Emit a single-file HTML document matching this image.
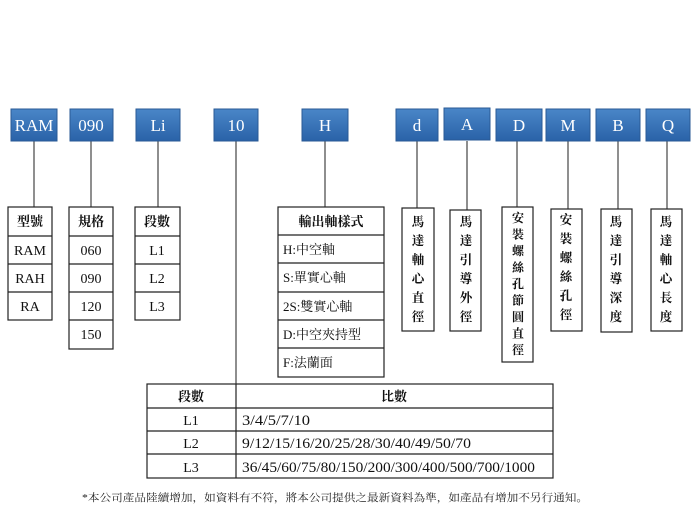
<!DOCTYPE html>
<html><head><meta charset="utf-8"><style>
html,body{margin:0;padding:0;background:#fff;}
svg text{font-family:"Liberation Serif","Noto Serif CJK SC",serif;}
</style></head><body>
<svg width="700" height="525" viewBox="0 0 700 525" xmlns="http://www.w3.org/2000/svg">
<defs>
<linearGradient id="g" x1="0" y1="0" x2="0" y2="1">
<stop offset="0" stop-color="#4a86c8"/><stop offset="1" stop-color="#2a62a8"/>
</linearGradient>
</defs>
<g stroke="#444" stroke-width="1.2">
<line x1="34" y1="141" x2="34" y2="207"/>
<line x1="91" y1="141" x2="91" y2="207"/>
<line x1="158" y1="141" x2="158" y2="207"/>
<line x1="236" y1="141" x2="236" y2="384"/>
<line x1="325" y1="141" x2="325" y2="207"/>
<line x1="417" y1="141" x2="417" y2="208"/>
<line x1="467" y1="141" x2="467" y2="210"/>
<line x1="517" y1="141" x2="517" y2="207"/>
<line x1="568" y1="141" x2="568" y2="209"/>
<line x1="618" y1="141" x2="618" y2="209"/>
<line x1="667" y1="141" x2="667" y2="209"/>
</g>
<g fill="url(#g)" stroke="#2a5a95" stroke-width="1">
<rect x="11" y="109" width="46" height="32"/>
<rect x="70" y="109" width="43" height="32"/>
<rect x="136" y="109" width="44" height="32"/>
<rect x="214" y="109" width="44" height="32"/>
<rect x="302" y="109" width="46" height="32"/>
<rect x="396" y="109" width="42" height="32"/>
<rect x="444" y="108" width="46" height="32"/>
<rect x="496" y="109" width="46" height="32"/>
<rect x="546" y="109" width="44" height="32"/>
<rect x="596" y="109" width="44" height="32"/>
<rect x="646" y="109" width="44" height="32"/>
</g>
<g fill="#fff" font-size="17" text-anchor="middle">
<text x="34" y="131">RAM</text>
<text x="91" y="131">090</text>
<text x="158" y="131">Li</text>
<text x="236" y="131">10</text>
<text x="325" y="131">H</text>
<text x="417" y="131">d</text>
<text x="467" y="130">A</text>
<text x="519" y="131">D</text>
<text x="568" y="131">M</text>
<text x="618" y="131">B</text>
<text x="668" y="131">Q</text>
</g>
<g fill="none" stroke="#222" stroke-width="1.2">
<rect x="8" y="207" width="44" height="113"/>
<line x1="8" y1="236" x2="52" y2="236"/><line x1="8" y1="264" x2="52" y2="264"/><line x1="8" y1="292" x2="52" y2="292"/>
<rect x="69" y="207" width="44" height="142"/>
<line x1="69" y1="236" x2="113" y2="236"/><line x1="69" y1="264" x2="113" y2="264"/><line x1="69" y1="292" x2="113" y2="292"/><line x1="69" y1="320" x2="113" y2="320"/>
<rect x="135" y="207" width="45" height="113"/>
<line x1="135" y1="236" x2="180" y2="236"/><line x1="135" y1="264" x2="180" y2="264"/><line x1="135" y1="292" x2="180" y2="292"/>
<rect x="278" y="207" width="106" height="170"/>
<line x1="278" y1="235" x2="384" y2="235"/><line x1="278" y1="263" x2="384" y2="263"/><line x1="278" y1="292" x2="384" y2="292"/><line x1="278" y1="320" x2="384" y2="320"/><line x1="278" y1="348" x2="384" y2="348"/>
<rect x="402" y="208" width="32" height="123"/>
<rect x="450" y="210" width="31" height="121"/>
<rect x="502" y="207" width="31" height="155"/>
<rect x="551" y="209" width="31" height="122"/>
<rect x="601" y="209" width="31" height="123"/>
<rect x="651" y="209" width="31" height="122"/>
<rect x="147" y="384" width="406" height="94"/>
<line x1="236" y1="384" x2="236" y2="478"/>
<line x1="147" y1="408" x2="553" y2="408"/><line x1="147" y1="431" x2="553" y2="431"/><line x1="147" y1="454" x2="553" y2="454"/>
</g>
<g fill="#111" font-size="14" text-anchor="middle">
<text x="30" y="226" font-weight="bold" font-size="13">型號</text>
<text x="30" y="255">RAM</text><text x="30" y="283">RAH</text><text x="30" y="311">RA</text>
<text x="91" y="226" font-weight="bold" font-size="13">規格</text>
<text x="91" y="255">060</text><text x="91" y="283">090</text><text x="91" y="311">120</text><text x="91" y="339">150</text>
<text x="157" y="226" font-weight="bold" font-size="13">段數</text>
<text x="157" y="255">L1</text><text x="157" y="283">L2</text><text x="157" y="311">L3</text>
<text x="331" y="226" font-weight="bold" font-size="13">輸出軸樣式</text>
<text x="191" y="401" font-weight="bold" font-size="13">段數</text>
<text x="394" y="401" font-weight="bold" font-size="13">比數</text>
<text x="191" y="425">L1</text><text x="191" y="448">L2</text><text x="191" y="472">L3</text>
</g>
<g fill="#111" font-size="13">
<text x="283" y="254">H:中空軸</text>
<text x="283" y="282">S:單實心軸</text>
<text x="283" y="311">2S:雙實心軸</text>
<text x="283" y="339">D:中空夾持型</text>
<text x="283" y="367">F:法蘭面</text>
<text x="242" y="425" font-size="15" textLength="68" lengthAdjust="spacingAndGlyphs">3/4/5/7/10</text>
<text x="242" y="448" font-size="15" textLength="229" lengthAdjust="spacingAndGlyphs">9/12/15/16/20/25/28/30/40/49/50/70</text>
<text x="242" y="472" font-size="15" textLength="293" lengthAdjust="spacingAndGlyphs">36/45/60/75/80/150/200/300/400/500/700/1000</text>
</g>
<g fill="#111" font-size="12.5" text-anchor="middle" font-weight="bold">
<text x="418" y="226">馬</text><text x="418" y="245">達</text><text x="418" y="264">軸</text><text x="418" y="283">心</text><text x="418" y="302">直</text><text x="418" y="321">徑</text>
<text x="466" y="226">馬</text><text x="466" y="245">達</text><text x="466" y="264">引</text><text x="466" y="283">導</text><text x="466" y="302">外</text><text x="466" y="321">徑</text>
<text x="566" y="224">安</text><text x="566" y="243">裝</text><text x="566" y="262">螺</text><text x="566" y="281">絲</text><text x="566" y="300">孔</text><text x="566" y="319">徑</text>
<text x="616" y="226">馬</text><text x="616" y="245">達</text><text x="616" y="264">引</text><text x="616" y="283">導</text><text x="616" y="302">深</text><text x="616" y="321">度</text>
<text x="666" y="226">馬</text><text x="666" y="245">達</text><text x="666" y="264">軸</text><text x="666" y="283">心</text><text x="666" y="302">長</text><text x="666" y="321">度</text>
</g>
<g fill="#111" font-size="12" text-anchor="middle" font-weight="bold">
<text x="518" y="222">安</text><text x="518" y="238.5">裝</text><text x="518" y="255">螺</text><text x="518" y="271.5">絲</text><text x="518" y="288">孔</text><text x="518" y="304.5">節</text><text x="518" y="321">圓</text><text x="518" y="337.5">直</text><text x="518" y="354">徑</text>
</g>
<text x="82" y="501" font-size="10.5" fill="#222" textLength="506" lengthAdjust="spacingAndGlyphs">*本公司產品陸續增加，如資料有不符，將本公司提供之最新資料為準，如產品有增加不另行通知。</text>
</svg>
</body></html>
